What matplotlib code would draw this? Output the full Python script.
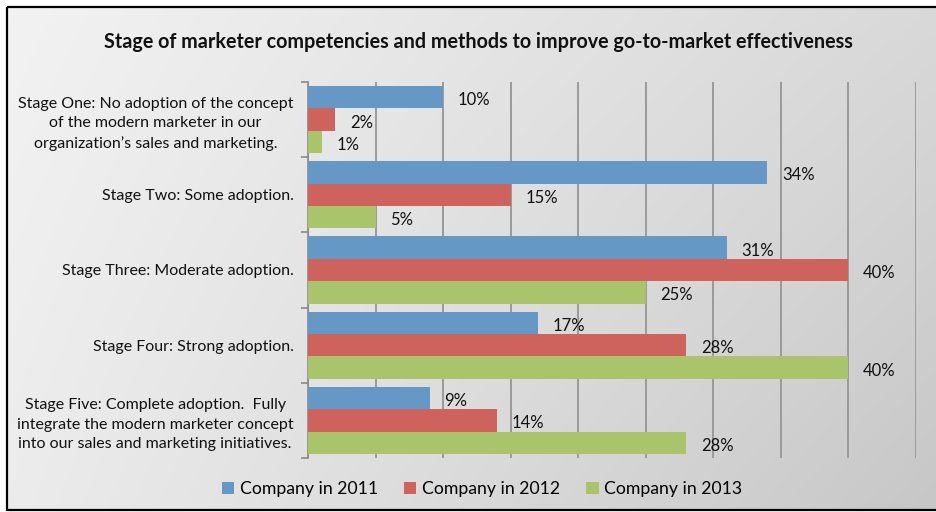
import numpy as np
import matplotlib
matplotlib.use("Agg")
import matplotlib.pyplot as plt
from matplotlib.patches import Rectangle

plt.rcParams['font.family'] = ['Lato', 'DejaVu Sans']

stages = [
    "Stage One: No adoption of the concept\nof the modern marketer in our\norganization\u2019s sales and marketing.",
    "Stage Two: Some adoption.",
    "Stage Three: Moderate adoption.",
    "Stage Four: Strong adoption.",
    "Stage Five: Complete adoption.  Fully\nintegrate the modern marketer concept\ninto our sales and marketing initiatives.",
]
years = ["Company in 2011", "Company in 2012", "Company in 2013"]
pct_2011 = [10, 34, 31, 17, 9]
pct_2012 = [2, 15, 40, 28, 14]
pct_2013 = [1, 5, 25, 40, 28]
colors = ["#6598c4", "#cd635c", "#aac46c"]

W, H = 936, 512
fig = plt.figure(figsize=(W / 100, H / 100), dpi=100)
fig.patch.set_facecolor("white")

# soft grey gradient behind everything
bg = fig.add_axes([0, 0, 1, 1], zorder=-2)
gx, gy = np.meshgrid(np.linspace(0, 1, 200), np.linspace(0, 1, 120))
tl, tr, bl, br = 0.95, 0.85, 0.925, 0.78
shade = tl * (1 - gx) * (1 - gy) + tr * gx * (1 - gy) + bl * (1 - gx) * gy + br * gx * gy
bg.imshow(np.dstack([shade] * 3), extent=(7, W + 5, 510, 7), aspect="auto", interpolation="bilinear")
bg.set_xlim(0, W)
bg.set_ylim(H, 0)
bg.add_patch(Rectangle((7, 7), W, 503, fill=False, edgecolor="black", linewidth=1.6))
bg.axis("off")

ax = fig.add_axes([308 / W, 1 - 458 / H, (915.5 - 308) / W, (458 - 82) / H])
ax.set_facecolor("none")

ypos = np.arange(len(stages))
h = 0.297
for k, (vals, col) in enumerate(zip([pct_2011, pct_2012, pct_2013], colors)):
    bars = ax.barh(ypos + (k - 1) * h, vals, height=h, color=col, label=years[k], zorder=3)
    for b, v in zip(bars, vals):
        ax.annotate(f"{v}%", (b.get_width(), b.get_y() + b.get_height() / 2),
                    xytext=(15, -3), textcoords="offset pixels",
                    ha="left", va="center", fontsize=12, color="#111111")

ax.set_xlim(0, 45)
ax.set_ylim(4.5, -0.5)
ax.set_xticks(np.arange(0, 46, 5))
ax.tick_params(axis="x", length=0, labelbottom=False)
ax.grid(axis="x", color="#9a9a9a", linewidth=1.4, zorder=0)

ax.set_yticks(ypos)
ax.set_yticklabels(stages, fontsize=11.5, color="#111111", linespacing=1.5)
for lbl in ax.get_yticklabels():
    lbl.set_multialignment("center")
ax.tick_params(axis="y", which="major", length=0, pad=10.5)
ax.set_yticks(np.arange(-0.5, 4.6, 1), minor=True)
ax.tick_params(axis="y", which="minor", length=5, color="#8a8a8a", width=1.2)

for s in ["top", "right", "bottom"]:
    ax.spines[s].set_visible(False)
ax.spines["left"].set_color("#8a8a8a")
ax.spines["left"].set_linewidth(1.2)

fig.text(478 / W, 1 - 42 / H, "Stage of marketer competencies and methods to improve go-to-market effectiveness",
         ha="center", va="center", fontsize=14.2, fontweight="bold", color="#111111")

fig.legend(loc="center", bbox_to_anchor=(482 / W, 1 - 489 / H), ncol=3, frameon=False,
           fontsize=12.7, handlelength=0.7, handleheight=0.7, handletextpad=0.3, columnspacing=1.5)

fig.savefig("out.png", dpi=100)
